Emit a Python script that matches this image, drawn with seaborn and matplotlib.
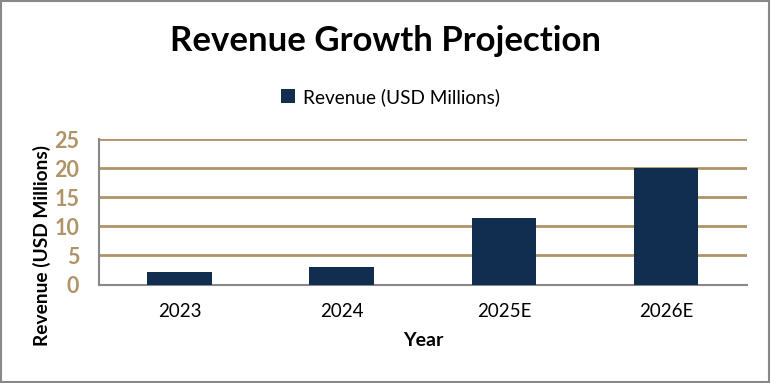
import matplotlib
matplotlib.use('Agg')
import matplotlib.pyplot as plt
import seaborn as sns
import pandas as pd
from matplotlib.patches import Rectangle

years = ['2023', '2024', '2025E', '2026E']
revenue = [2.2, 3.0, 11.4, 20.0]
y_ticks = [0, 5, 10, 15, 20, 25]

navy = '#112E51'
gold = '#B09468'

sns.set_theme(style='white')
plt.rcParams['font.family'] = ['Lato', 'DejaVu Sans']
plt.rcParams['text.color'] = 'black'
plt.rcParams['axes.labelcolor'] = 'black'

df = pd.DataFrame({'Year': years, 'Revenue (USD Millions)': revenue})

fig = plt.figure(figsize=(7.71, 3.83), dpi=100)
ax = fig.add_axes([0.128, 0.257, 0.841, 0.38])

sns.barplot(data=df, x='Year', y='Revenue (USD Millions)', color=navy,
            saturation=1, width=0.4, linewidth=0, ax=ax,
            label='Revenue (USD Millions)', zorder=3)

ax.set_ylim(0, 25)
ax.set_yticks(y_ticks)
ax.set_xlim(-0.5, 3.5)
for t in y_ticks[1:]:
    ax.axhline(t, color=gold, lw=2, zorder=1)

for side in ['top', 'right']:
    ax.spines[side].set_visible(False)
for side in ['left', 'bottom']:
    ax.spines[side].set_color('#888888')
    ax.spines[side].set_linewidth(1.5)

ax.tick_params(axis='y', labelcolor=gold, labelsize=15.5, length=0, pad=14)
for lbl in ax.get_yticklabels():
    lbl.set_fontweight('bold')
ax.tick_params(axis='x', labelcolor='black', labelsize=13.5, length=0, pad=13)

ax.set_xlabel('Year', fontsize=14, fontweight='bold', labelpad=9)
ax.set_ylabel('Revenue (USD Millions)', fontsize=13.8, fontweight='bold')
ax.yaxis.set_label_coords(-0.073, 0.27)

fig.suptitle('Revenue Growth Projection', fontsize=25, fontweight='bold', y=0.935)

leg = ax.legend(loc='center', bbox_to_anchor=(0.506, 0.747), bbox_transform=fig.transFigure,
                frameon=False, fontsize=13.7, handlelength=0.75, handleheight=0.75,
                handletextpad=0.4)

fig.patches.append(Rectangle((0.001, 0.002), 0.997, 0.995, transform=fig.transFigure,
                             fill=False, edgecolor='#888888', lw=1.5))

fig.savefig('out.png', dpi=100)
